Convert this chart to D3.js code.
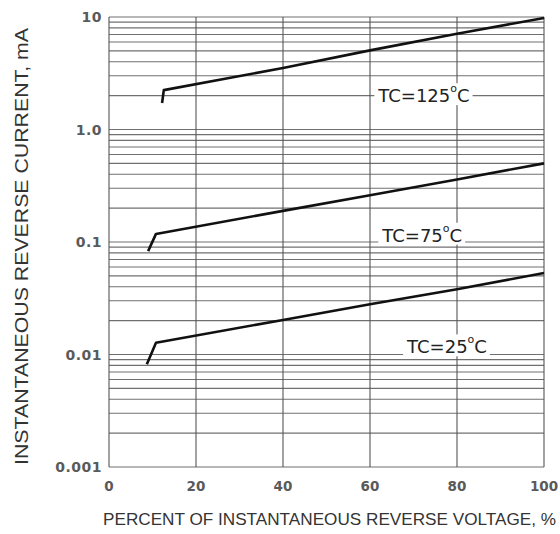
<!DOCTYPE html>
<html lang="en">
<head>
<meta charset="UTF-8">
<title>Reverse current</title>
<script src="https://d3js.org/d3.v7.min.js"></script>
<style>
  body { margin: 0; background: #fff; }
  text { font-family: "Liberation Sans", Arial, sans-serif; }
  text.wide { font-family: "DejaVu Sans", sans-serif; }
</style>
</head>
<body>
<script>
// curve data: percent of rated voltage -> current, mA
var tc125X = [12.2, 12.6, 40, 60, 80, 100];
var tc125Y = [1.72, 2.24, 3.52, 5.05, 7.1, 9.8];
var tc75X = [9.0, 10.8, 40, 60, 80, 100];
var tc75Y = [0.083, 0.118, 0.189, 0.26, 0.36, 0.50];
var tc25X = [8.7, 10.8, 40, 60, 80, 100];
var tc25Y = [0.0082, 0.0127, 0.0203, 0.028, 0.038, 0.053];

var curveLabels = ["TC=125", "TC=75", "TC=25"];
// where each label sits (data coords)
var labelX = [72.4, 72, 77.7];
var labelY = [2.0, 0.115, 0.0117];

var xTicks = [0, 20, 40, 60, 80, 100];
var yTicks = [0.001, 0.01, 0.1, 1, 10];
var yTickText = ["0.001", "0.01", "0.1", "1.0", "10"];

var width = 560, height = 534;
var margin = {top: 17, right: 16, bottom: 67, left: 109};

var x = d3.scaleLinear().domain([0, 100]).range([margin.left, width - margin.right]);
var y = d3.scaleLog().domain([0.001, 10]).range([height - margin.bottom, margin.top]);

var svg = d3.select("body").append("svg")
  .attr("width", width)
  .attr("height", height);

// horizontal log grid: 1..9 in every decade
var minor = [];
for (var e = -3; e < 1; e++) {
  for (var m = 1; m <= 9; m++) minor.push(m * Math.pow(10, e));
}
minor.push(10);

svg.append("g")
  .selectAll("line")
  .data(minor)
  .join("line")
  .attr("x1", x(0)).attr("x2", x(100))
  .attr("y1", d => y(d)).attr("y2", d => y(d))
  .attr("stroke", "#707070")
  .attr("stroke-width", 1.1);

// vertical grid
svg.append("g")
  .selectAll("line")
  .data(xTicks)
  .join("line")
  .attr("x1", d => x(d)).attr("x2", d => x(d))
  .attr("y1", y(10)).attr("y2", y(0.001))
  .attr("stroke", "#555")
  .attr("stroke-width", 1.1);

// curves
var line = d3.line().x(d => x(d[0])).y(d => y(d[1]));
var series = [
  d3.zip(tc125X, tc125Y),
  d3.zip(tc75X, tc75Y),
  d3.zip(tc25X, tc25Y)
];
svg.append("g")
  .selectAll("path")
  .data(series)
  .join("path")
  .attr("d", line)
  .attr("fill", "none")
  .attr("stroke", "#111")
  .attr("stroke-width", 2.6)
  .attr("stroke-linejoin", "round");

// curve labels with white boxes that cut the grid
var lab = svg.append("g")
  .selectAll("g")
  .data(curveLabels)
  .join("g")
  .attr("transform", (d, i) => "translate(" + x(labelX[i]) + "," + y(labelY[i]) + ")");

lab.each(function(d) {
  var g = d3.select(this);
  var t = g.append("text")
    .attr("class", "wide")
    .attr("text-anchor", "middle")
    .attr("dy", "0.36em")
    .attr("font-size", 18)
    .attr("fill", "#222");
  t.append("tspan").text(d);
  t.append("tspan").text("o").attr("font-size", 11).attr("dy", "-0.9em");
  t.append("tspan").text("C").attr("dy", "0.55em");
  var bb = t.node().getBBox();
  g.insert("rect", "text")
    .attr("x", bb.x - 3).attr("y", bb.y + 1)
    .attr("width", bb.width + 6).attr("height", bb.height - 2)
    .attr("fill", "#fff");
});

// tick labels
svg.append("g")
  .selectAll("text")
  .data(yTicks)
  .join("text")
  .attr("class", "wide")
  .attr("x", margin.left - 7)
  .attr("y", d => y(d))
  .attr("dy", "0.36em")
  .attr("text-anchor", "end")
  .attr("font-size", 14)
  .attr("font-weight", "bold")
  .attr("letter-spacing", 0.5)
  .attr("fill", "#5a5a5a")
  .text((d, i) => yTickText[i]);

svg.append("g")
  .selectAll("text")
  .data(xTicks)
  .join("text")
  .attr("class", "wide")
  .attr("x", d => x(d))
  .attr("y", y(0.001) + 24)
  .attr("text-anchor", "middle")
  .attr("font-size", 13.5)
  .attr("font-weight", "bold")
  .attr("fill", "#5a5a5a")
  .text(d => d);

// axis titles
svg.append("text")
  .attr("x", 103)
  .attr("y", 525)
  .attr("font-size", 16.5)
  .attr("textLength", 453)
  .attr("lengthAdjust", "spacingAndGlyphs")
  .attr("fill", "#333")
  .text("PERCENT OF INSTANTANEOUS REVERSE VOLTAGE, %");

svg.append("text")
  .attr("transform", "translate(28,465) rotate(-90)")
  .attr("font-size", 19)
  .attr("textLength", 437)
  .attr("lengthAdjust", "spacingAndGlyphs")
  .attr("fill", "#333")
  .text("INSTANTANEOUS REVERSE CURRENT, mA");
</script>
</body>
</html>
